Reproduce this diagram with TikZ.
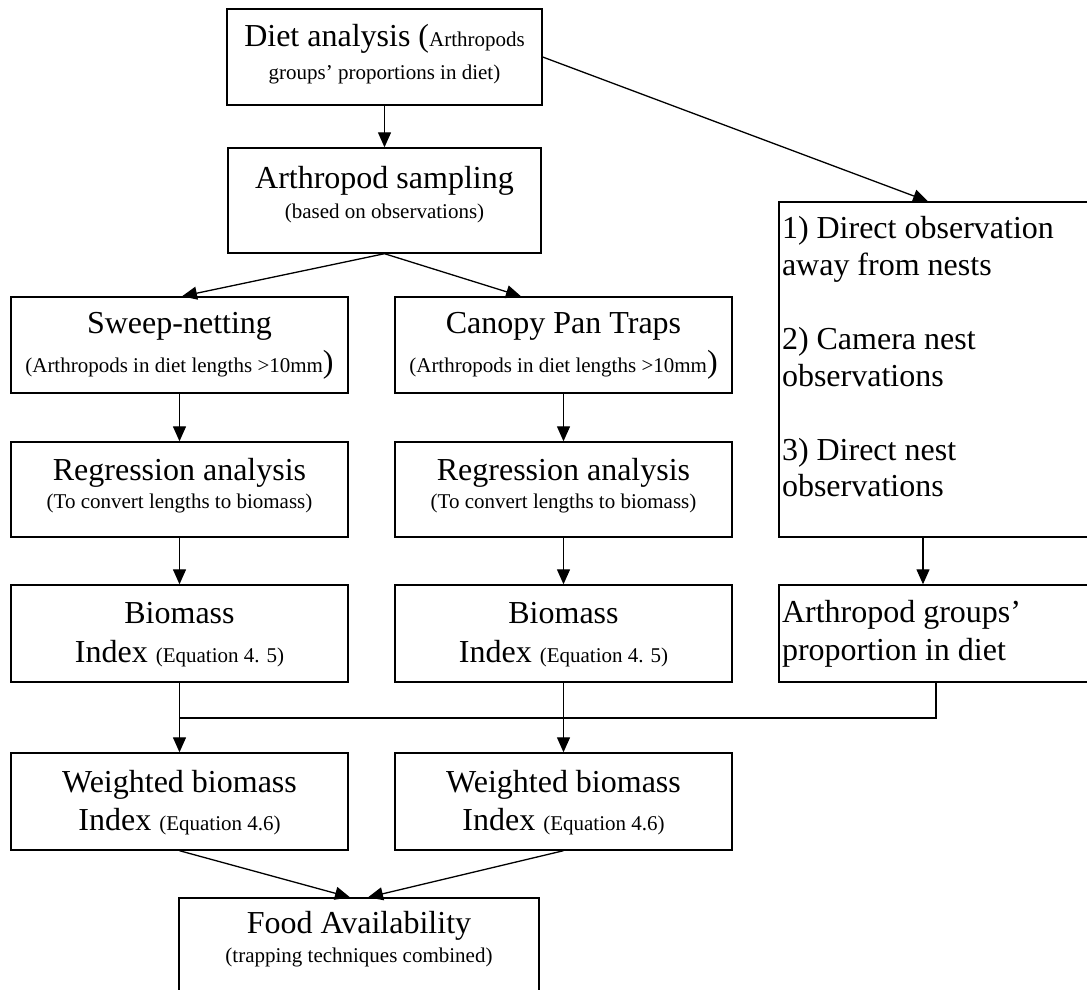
\documentclass[tikz,border=0pt]{standalone}
\usepackage{fontspec}
\setmainfont{Liberation Serif}
\usetikzlibrary{arrows.meta,calc}
\newcommand{\bigf}{\fontsize{32}{37}\selectfont}
\newcommand{\smf}{\fontsize{21}{25}\selectfont}
% #1 width, #2 height, #3 first baseline offset, #4 baselineskip, #5 alignment, #6 content
\newcommand{\bxc}[6]{\parbox[c][#2][t]{#1}{#5\rule{0pt}{#3}#6\setlength{\baselineskip}{#4}\par}}
\tikzset{
  box/.style={draw, line width=1.4pt, inner sep=0pt, rectangle},
  arr/.style={line width=1.3pt, -{Triangle[length=15pt,width=13pt]}},
  ln/.style={line width=1.3pt}
}
\begin{document}
\begin{tikzpicture}[x=1pt,y=-1pt]
\useasboundingbox (0,0) rectangle (1087,990);
\clip (0,0) rectangle (1087,990);

\node[box] (diet) at (384.5,57) {\bxc{315pt}{96pt}{38pt}{33pt}{\centering}{\bigf Diet analysis (\smf Arthropods\\ groups’ proportions in diet)}};
\node[box] (samp) at (384.5,200.5) {\bxc{313pt}{105pt}{40pt}{30pt}{\centering}{\bigf Arthropod sampling\\ \smf (based on observations)}};

\node[box] (sweep) at (179.5,345) {\bxc{337pt}{96pt}{36pt}{39pt}{\centering}{\bigf Sweep-netting\\ {\smf (Arthropods in diet lengths >10mm})}};
\node[box] (canopy) at (563.5,345) {\bxc{337pt}{96pt}{36pt}{39pt}{\centering}{\bigf Canopy Pan Traps\\ {\smf (Arthropods in diet lengths >10mm})}};

\node[box] (reg1) at (179.5,489.5) {\bxc{337pt}{95pt}{38pt}{28pt}{\centering}{\bigf Regression analysis\\ \smf (To convert lengths to biomass)}};
\node[box] (reg2) at (563.5,489.5) {\bxc{337pt}{95pt}{38pt}{28pt}{\centering}{\bigf Regression analysis\\ \smf (To convert lengths to biomass)}};

\node[box] (bio1) at (179.5,633.5) {\bxc{337pt}{97pt}{38pt}{39pt}{\centering}{\bigf Biomass\\ Index {\smf (Equation 4. 5)}}};
\node[box] (bio2) at (563.5,633.5) {\bxc{337pt}{97pt}{38pt}{39pt}{\centering}{\bigf Biomass\\ Index {\smf (Equation 4. 5)}}};

\node[box] (w1) at (179.5,801.5) {\bxc{337pt}{97pt}{39pt}{38pt}{\centering}{\bigf Weighted biomass\\ Index {\smf (Equation 4.6)}}};
\node[box] (w2) at (563.5,801.5) {\bxc{337pt}{97pt}{39pt}{38pt}{\centering}{\bigf Weighted biomass\\ Index {\smf (Equation 4.6)}}};

\node[box] (food) at (359,946.5) {\bxc{360pt}{97pt}{35pt}{29pt}{\centering}{\bigf Food Availability\\ \smf (trapping techniques combined)}};

\node[box] (direct) at (934.5,369.5) {\bxc{311pt}{335pt}{36pt}{36.8pt}{\raggedright\leftskip=3pt}{\bigf 1) Direct observation\\ away from nests\\ \mbox{}\\ 2) Camera nest\\ observations\\ \mbox{}\\ 3) Direct nest\\ observations}};
\node[box] (groups) at (934.5,633.5) {\bxc{311pt}{97pt}{37pt}{38pt}{\raggedright\leftskip=3pt}{\bigf Arthropod groups’\\ proportion in diet}};

\coordinate (jl) at (179.5,718);

\draw[arr] (diet.south) -- (samp.north);
\draw[arr] (diet.east) -- ($(direct.north)+(-6.5,0)$);
\draw[arr] (samp.south) -- ($(sweep.north)+(2.5,0)$);
\draw[arr] (samp.south) -- ($(canopy.north)+(-42.5,0)$);
\draw[arr] (sweep.south) -- (reg1.north);
\draw[arr] (canopy.south) -- (reg2.north);
\draw[arr] (reg1.south) -- (bio1.north);
\draw[arr] (reg2.south) -- (bio2.north);
\draw[arr] (bio1.south) -- (w1.north);
\draw[arr] (bio2.south) -- (w2.north);
\draw[arr] ($(direct.south)+(-11.5,0)$) -- ($(groups.north)+(-11.5,0)$);
\draw[ln] ($(groups.south)+(1.5,0)$) |- (jl);
\draw[arr] (w1.south) -- ($(food.north)+(-9,0)$);
\draw[arr] (w2.south) -- ($(food.north)+(9,0)$);
\end{tikzpicture}
\end{document}
